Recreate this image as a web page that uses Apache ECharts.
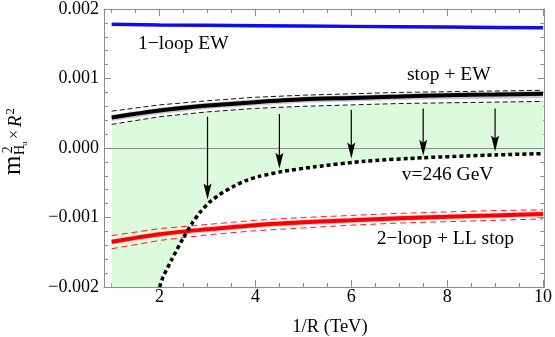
<!DOCTYPE html>
<html>
<head>
<meta charset="utf-8">
<script src="https://cdn.jsdelivr.net/npm/echarts@6/dist/echarts.min.js"></script>
<style>
  html, body { margin: 0; padding: 0; background: #fff; }
  #chart { width: 555px; height: 337px; }
</style>
</head>
<body>
<div id="chart"></div>
<script>
// Data
const xMajorTicks = [2, 4, 6, 8, 10];
const xMinorTicks = [1, 1.5, 2.5, 3, 3.5, 4.5, 5, 5.5, 6.5, 7, 7.5, 8.5, 9, 9.5];

const curveX = [1, 2, 3, 4, 5, 6, 7, 8, 9, 10];
const oneLoopEW = [0.00178, 0.00177, 0.001765, 0.00176, 0.001755, 0.00175, 0.001745, 0.00174, 0.001735, 0.00173];

const stopEW = [0.00044, 0.00054, 0.00061, 0.00066, 0.0007, 0.00072, 0.00074, 0.00076, 0.00077, 0.00078];
const stopEWHi = [0.00053, 0.00062, 0.00068, 0.00073, 0.00076, 0.00078, 0.0008, 0.00081, 0.00082, 0.00083];
const stopEWLo = [0.00034, 0.00045, 0.00052, 0.00057, 0.0006, 0.00062, 0.00064, 0.00065, 0.00066, 0.00067];
const stopBandHi = [0.00048, 0.00058, 0.00065, 0.0007, 0.00074, 0.00076, 0.00078, 0.0008, 0.00081, 0.00082];
const stopBandLo = [0.00039, 0.00049, 0.00056, 0.00061, 0.00065, 0.00067, 0.00069, 0.0007, 0.00071, 0.00072];

const twoLoop = [-0.00135, -0.00124, -0.00117, -0.00111, -0.00107, -0.00104, -0.00101, -0.00099, -0.00097, -0.00095];
const twoLoopHi = [-0.00126, -0.00116, -0.0011, -0.00104, -0.001, -0.00097, -0.00094, -0.00092, -0.0009, -0.00089];
const twoLoopLo = [-0.00145, -0.00133, -0.00125, -0.00119, -0.00115, -0.00111, -0.00108, -0.00106, -0.00104, -0.00102];
const twoLoopBandHi = [-0.00131, -0.0012, -0.00113, -0.00107, -0.00103, -0.001, -0.00097, -0.00095, -0.00093, -0.00091];
const twoLoopBandLo = [-0.00139, -0.00128, -0.00121, -0.00115, -0.00111, -0.00108, -0.00105, -0.00103, -0.00101, -0.00099];

const vevX = [2.0, 2.07, 2.25, 2.48, 2.69, 2.85, 3.04, 3.25, 3.52, 3.8, 4.07, 4.55, 5.24, 6.28, 7.5, 9, 10];
const vevY = [-0.002, -0.00186, -0.00161, -0.00131, -0.00107, -0.00092, -0.00078, -0.00067, -0.00056, -0.00047, -0.00041, -0.00034, -0.00027, -0.00019, -0.00014, -0.0001, -0.00008];

// green region floor left of the v=246 GeV curve
const greenFloorX = 1;
const greenFloorY = -0.002;

const arrowX = [3, 4.5, 6, 7.5, 9];
const arrowFrom = [0.00045, 0.00049, 0.00055, 0.00057, 0.00057];
const arrowTo = [-0.00074, -0.0003, -0.00015, -0.00011, -0.00005];

const SERIF = '"Liberation Serif", "Times New Roman", serif';
const FRAME = '#8c8c8c';

const pair = (xs, ys) => xs.map((x, i) => [x, ys[i]]);

// filled polygon between two curves, placed through the axes
function polygonSeries(upper, lower, color, z) {
    return {
        type: 'custom',
        coordinateSystem: 'cartesian2d',
        silent: true,
        clip: true,
        z: z,
        data: [upper[0]],
        renderItem: (params, api) => {
            const pts = upper.map(p => api.coord(p))
                .concat(lower.slice().reverse().map(p => api.coord(p)));
            return {type: 'polygon', shape: {points: pts}, style: {fill: color}};
        }
    };
}

function lineSeries(xs, ys, color, width, type, z, extra) {
    return Object.assign({
        type: 'line',
        data: pair(xs, ys),
        showSymbol: false,
        symbol: 'none',
        silent: true,
        z: z,
        lineStyle: {color: color, width: width, type: type},
        animation: false
    }, extra || {});
}

const greenLower = [[greenFloorX, greenFloorY]].concat(pair(vevX, vevY));

const chart = echarts.init(document.getElementById('chart'), null, {renderer: 'canvas'});

const baseX = {
    type: 'value', min: 0.84, max: 10.03, splitLine: {show: false},
    axisLine: {show: true, onZero: false, lineStyle: {color: FRAME, width: 1}}
};
const baseY = {
    type: 'value', min: -0.002, max: 0.002, interval: 0.001, splitLine: {show: false},
    axisLine: {show: true, onZero: false, lineStyle: {color: FRAME, width: 1}},
    axisTick: {show: true, inside: true, length: 7, lineStyle: {color: FRAME}},
    minorTick: {show: true, splitNumber: 5, length: 4, lineStyle: {color: FRAME}}
};

chart.setOption({
    animation: false,
    grid: {left: 104, right: 8, top: 8, bottom: 50, containLabel: false},
    xAxis: [
        Object.assign({}, baseX, {
            position: 'bottom',
            axisTick: {show: true, inside: true, length: 7, customValues: xMajorTicks, lineStyle: {color: FRAME}},
            axisLabel: {
                show: true, customValues: xMajorTicks, margin: 1,
                color: '#000', fontFamily: SERIF, fontSize: 18
            }
        }),
        Object.assign({}, baseX, {
            position: 'top',
            axisTick: {show: true, inside: true, length: 7, customValues: xMajorTicks, lineStyle: {color: FRAME}},
            axisLabel: {show: false}
        }),
        Object.assign({}, baseX, {
            position: 'bottom', axisLine: {show: false, onZero: false},
            axisTick: {show: true, inside: true, length: 4, customValues: xMinorTicks, lineStyle: {color: FRAME}},
            axisLabel: {show: false}
        }),
        Object.assign({}, baseX, {
            position: 'top', axisLine: {show: false, onZero: false},
            axisTick: {show: true, inside: true, length: 4, customValues: xMinorTicks, lineStyle: {color: FRAME}},
            axisLabel: {show: false}
        })
    ],
    yAxis: [
        Object.assign({}, baseY, {
            position: 'left',
            axisLabel: {
                show: true, margin: 5, color: '#000', fontFamily: SERIF, fontSize: 18,
                formatter: v => (v < 0 ? '\u2212' : '') + Math.abs(v).toFixed(3)
            }
        }),
        Object.assign({}, baseY, {position: 'right', axisLabel: {show: false}})
    ],
    series: [
        polygonSeries(pair(curveX, stopEWLo), greenLower, '#dcfadc', 1),
        polygonSeries(pair(curveX, stopBandHi), pair(curveX, stopBandLo), '#c9c9c9', 2),
        polygonSeries(pair(curveX, twoLoopBandHi), pair(curveX, twoLoopBandLo), '#fbc4ca', 2),
        lineSeries(curveX, stopEWHi, '#111', 1, [5, 3], 3),
        lineSeries(curveX, stopEWLo, '#111', 1, [5, 3], 3),
        lineSeries(curveX, twoLoopHi, '#ff1a1a', 1, [6, 4], 3),
        lineSeries(curveX, twoLoopLo, '#ff1a1a', 1, [6, 4], 3),
        lineSeries(curveX, oneLoopEW, '#0d0df2', 3.5, 'solid', 4, {
            markLine: {
                silent: true, symbol: 'none', animation: false,
                label: {show: false},
                lineStyle: {color: FRAME, width: 1, type: 'solid'},
                data: [{yAxis: 0}]
            }
        }),
        lineSeries(curveX, stopEW, '#000', 4, 'solid', 4, {smooth: 0.3}),
        lineSeries(curveX, twoLoop, '#ff0000', 4, 'solid', 4, {smooth: 0.3}),
        lineSeries(vevX, vevY, '#000', 3.5, [4, 3], 5, {smooth: 0.2}),
        {
            type: 'custom',
            coordinateSystem: 'cartesian2d',
            silent: true,
            z: 6,
            data: arrowX.map((x, i) => [x, arrowFrom[i], arrowTo[i]]),
            encode: {x: 0, y: [1, 2]},
            renderItem: (params, api) => {
                const p0 = api.coord([api.value(0), api.value(1)]);
                const p1 = api.coord([api.value(0), api.value(2)]);
                const x = p1[0], y = p1[1];
                return {
                    type: 'group',
                    children: [
                        {type: 'line', shape: {x1: p0[0], y1: p0[1], x2: x, y2: y - 11},
                         style: {stroke: '#000', lineWidth: 1.2}},
                        {type: 'polygon', shape: {points: [[x, y], [x - 4, y - 16], [x, y - 13], [x + 4, y - 16]]},
                         style: {fill: '#000'}}
                    ]
                };
            }
        }
    ],
    graphic: [
        {type: 'text', x: 138, y: 43.4, style: {text: '1\u2212loop EW', fontFamily: SERIF, fontSize: 19.5, fill: '#000', align: 'left', verticalAlign: 'middle'}},
        {type: 'text', x: 407, y: 75.1, style: {text: 'stop + EW', fontFamily: SERIF, fontSize: 19.5, fill: '#000', align: 'left', verticalAlign: 'middle'}},
        {type: 'text', x: 135, y: 163.4, style: {text: '1/', fontFamily: SERIF, fontSize: 19.5, fill: '#000', align: 'left', verticalAlign: 'middle'}},
        {type: 'text', x: 150.5, y: 163.4, style: {text: 'M', fontFamily: SERIF, fontStyle: 'italic', fontSize: 19.5, fill: '#000', align: 'left', verticalAlign: 'middle'}},
        {type: 'text', x: 168, y: 169.6, style: {text: '5', fontFamily: SERIF, fontSize: 13, fill: '#000', align: 'left', verticalAlign: 'middle'}},
        {type: 'text', x: 176, y: 158.1, style: {text: 'n', fontFamily: SERIF, fontStyle: 'italic', fontSize: 13, fill: '#000', align: 'left', verticalAlign: 'middle'}},
        {type: 'text', x: 156.7, y: 183.4, style: {text: 'operators', fontFamily: SERIF, fontSize: 19.5, fill: '#000', align: 'center', verticalAlign: 'middle'}},
        {type: 'text', x: 401.7, y: 175.1, style: {text: 'v=246 GeV', fontFamily: SERIF, fontSize: 19.5, fill: '#000', align: 'left', verticalAlign: 'middle'}},
        {type: 'text', x: 376.7, y: 238.4, style: {text: '2\u2212loop + LL stop', fontFamily: SERIF, fontSize: 19.5, fill: '#000', align: 'left', verticalAlign: 'middle'}},
        {type: 'text', x: 330, y: 326.8, style: {text: '1/R (TeV)', fontFamily: SERIF, fontSize: 18.5, fill: '#000', align: 'center', verticalAlign: 'middle'}},
        // y axis title, rotated: m^2_{H_u} x R^2
        {
            type: 'group', x: 22, y: 176, rotation: Math.PI / 2,
            children: [
                {type: 'text', x: 1, y: -8.5, style: {text: 'm', fontFamily: SERIF, fontSize: 25, fill: '#000', align: 'left', verticalAlign: 'middle'}},
                {type: 'text', x: 22.7, y: -13.5, style: {text: '2', fontFamily: SERIF, fontSize: 14, fill: '#000', align: 'left', verticalAlign: 'middle'}},
                {type: 'text', x: 21, y: -1.8, style: {text: 'H', fontFamily: SERIF, fontSize: 14, fill: '#000', align: 'left', verticalAlign: 'middle'}},
                {type: 'text', x: 30, y: 3, style: {text: 'u', fontFamily: SERIF, fontSize: 9, fill: '#000', align: 'left', verticalAlign: 'middle'}},
                {type: 'text', x: 37, y: -6.9, style: {text: '\u00d7', fontFamily: SERIF, fontSize: 16, fill: '#000', align: 'left', verticalAlign: 'middle'}},
                {type: 'text', x: 49, y: -5.6, style: {text: 'R', fontFamily: SERIF, fontStyle: 'italic', fontSize: 18.5, fill: '#000', align: 'left', verticalAlign: 'middle'}},
                {type: 'text', x: 61.5, y: -11.4, style: {text: '2', fontFamily: SERIF, fontSize: 13, fill: '#000', align: 'left', verticalAlign: 'middle'}}
            ]
        }
    ]
});
</script>
</body>
</html>
